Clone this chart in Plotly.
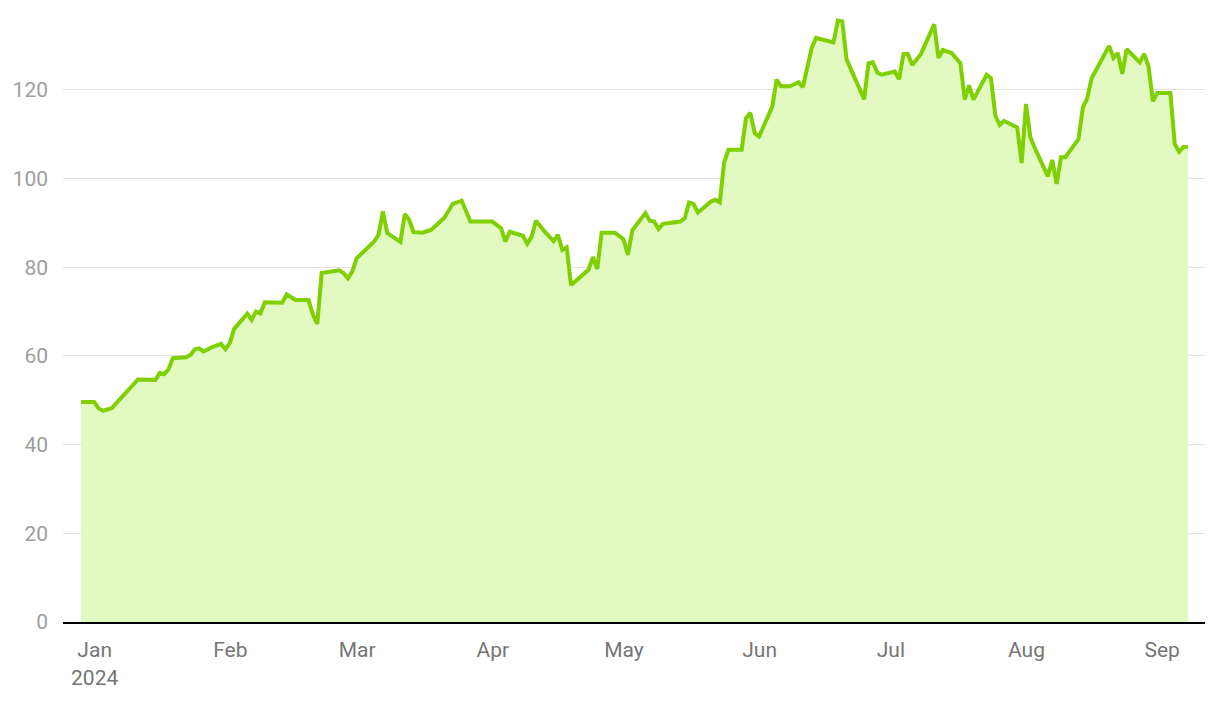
import plotly.graph_objects as go

dates = [
    "2024-01-02", "2024-01-05", "2024-01-06", "2024-01-07", "2024-01-09", "2024-01-15",
    "2024-01-19", "2024-01-20", "2024-01-21", "2024-01-22", "2024-01-23", "2024-01-26",
    "2024-01-27", "2024-01-28", "2024-01-29", "2024-01-30", "2024-02-01", "2024-02-03",
    "2024-02-04", "2024-02-05", "2024-02-06", "2024-02-09", "2024-02-10", "2024-02-11",
    "2024-02-12", "2024-02-13", "2024-02-17", "2024-02-18", "2024-02-20", "2024-02-23",
    "2024-02-24", "2024-02-25", "2024-02-26", "2024-03-01", "2024-03-02", "2024-03-03",
    "2024-03-04", "2024-03-05", "2024-03-09", "2024-03-10", "2024-03-11", "2024-03-12",
    "2024-03-15", "2024-03-16", "2024-03-17", "2024-03-18", "2024-03-20", "2024-03-22",
    "2024-03-25", "2024-03-27", "2024-03-29", "2024-03-31", "2024-04-05", "2024-04-06",
    "2024-04-07", "2024-04-08", "2024-04-09", "2024-04-12", "2024-04-13", "2024-04-14",
    "2024-04-15", "2024-04-17", "2024-04-19", "2024-04-20", "2024-04-21", "2024-04-22",
    "2024-04-23", "2024-04-27", "2024-04-28", "2024-04-29", "2024-04-30", "2024-05-03",
    "2024-05-05", "2024-05-06", "2024-05-07", "2024-05-10", "2024-05-11", "2024-05-12",
    "2024-05-13", "2024-05-14", "2024-05-18", "2024-05-19", "2024-05-20", "2024-05-21",
    "2024-05-22", "2024-05-25", "2024-05-26", "2024-05-27", "2024-05-28", "2024-05-29",
    "2024-06-01", "2024-06-02", "2024-06-03", "2024-06-04", "2024-06-05", "2024-06-08",
    "2024-06-09", "2024-06-10", "2024-06-12", "2024-06-14", "2024-06-15", "2024-06-17",
    "2024-06-18", "2024-06-22", "2024-06-23", "2024-06-24", "2024-06-25", "2024-06-29",
    "2024-06-30", "2024-07-01", "2024-07-02", "2024-07-03", "2024-07-06", "2024-07-07",
    "2024-07-08", "2024-07-09", "2024-07-10", "2024-07-12", "2024-07-15", "2024-07-16",
    "2024-07-17", "2024-07-19", "2024-07-21", "2024-07-22", "2024-07-23", "2024-07-24",
    "2024-07-27", "2024-07-28", "2024-07-29", "2024-07-30", "2024-07-31", "2024-08-03",
    "2024-08-04", "2024-08-05", "2024-08-06", "2024-08-07", "2024-08-10", "2024-08-11",
    "2024-08-12", "2024-08-13", "2024-08-14", "2024-08-17", "2024-08-18", "2024-08-19",
    "2024-08-20", "2024-08-24", "2024-08-25", "2024-08-26", "2024-08-27", "2024-08-28",
    "2024-08-31", "2024-09-01", "2024-09-02", "2024-09-03", "2024-09-04", "2024-09-07",
    "2024-09-08", "2024-09-09", "2024-09-10", "2024-09-11",
]

values = [
    49.6, 49.6, 48.2, 47.6, 48.2, 54.7,
    54.6, 56.2, 55.9, 57.0, 59.5, 59.7,
    60.2, 61.5, 61.7, 61.0, 62.0, 62.7,
    61.5, 62.9, 66.1, 69.5, 68.1, 70.0,
    69.6, 72.1, 72.0, 73.9, 72.6, 72.6,
    69.3, 67.2, 78.7, 79.3, 78.7, 77.5,
    79.0, 82.0, 85.8, 87.3, 92.6, 87.7,
    85.7, 92.0, 90.7, 87.9, 87.8, 88.4,
    91.1, 94.3, 95.0, 90.3, 90.3, 89.6,
    88.8, 85.8, 88.0, 87.1, 85.3, 86.9,
    90.5, 88.0, 85.9, 87.3, 83.9, 84.5,
    76.0, 79.4, 82.3, 79.6, 87.8, 87.8,
    86.3, 82.8, 88.3, 92.2, 90.5, 90.3,
    88.6, 89.8, 90.3, 91.1, 94.6, 94.3,
    92.3, 94.8, 95.2, 94.6, 103.6, 106.5,
    106.5, 113.6, 114.8, 110.2, 109.5, 116.2,
    122.3, 120.8, 120.8, 121.7, 120.6, 129.4,
    131.7, 130.7, 135.6, 135.4, 126.8, 117.9,
    126.0, 126.2, 123.9, 123.4, 124.1, 122.4,
    128.1, 128.1, 125.6, 128.1, 134.8, 127.2,
    129.0, 128.3, 126.0, 117.8, 121.0, 117.8,
    123.4, 122.6, 114.1, 112.1, 113.0, 111.5,
    103.5, 116.8, 109.3, 106.9, 100.5, 104.2,
    98.8, 104.8, 104.8, 108.9, 116.0, 118.1,
    122.6, 129.9, 127.2, 128.3, 123.6, 129.2,
    126.2, 128.1, 125.3, 117.4, 119.3, 119.3,
    107.8, 106.0, 107.1, 107.1,
]

month_ticks = ["2024-01-01", "2024-02-01", "2024-03-01", "2024-04-01", "2024-05-01",
               "2024-06-01", "2024-07-01", "2024-08-01", "2024-09-01"]
month_labels = ["Jan<br>2024", "Feb", "Mar", "Apr", "May", "Jun", "Jul", "Aug", "Sep"]
y_ticks = [0, 20, 40, 60, 80, 100, 120]

LINE = "#7ed000"
FILL = "#e2f9c2"

fig = go.Figure()
fig.add_trace(go.Scatter(
    x=dates, y=values, mode="lines",
    line=dict(color=LINE, width=4),
    fill="tozeroy", fillcolor=FILL,
    hoverinfo="skip",
))

# page body has an 8px margin; compensate so the plot area lands where the reference has it
fig.update_layout(
    width=1212, height=694,
    margin=dict(l=55, r=15, t=2, b=80),
    paper_bgcolor="white", plot_bgcolor="white",
    showlegend=False,
    font=dict(family="Roboto", size=21),
)
fig.update_xaxes(
    type="date",
    range=["2023-12-28 21:00", "2024-09-14 22:00"],
    tickvals=month_ticks, ticktext=month_labels,
    showgrid=False, zeroline=False,
    showline=True, linecolor="black", linewidth=2,
    ticks="", ticklabelshift=18, ticklabelstandoff=8,
    tickfont=dict(color="#757575", size=21),
    automargin=False,
)
fig.update_yaxes(
    range=[0, 138],
    tickvals=y_ticks,
    showgrid=True, gridcolor="#e2e2e2", gridwidth=1,
    zeroline=False, showline=False,
    ticks="", ticklabelstandoff=14,
    tickfont=dict(color="#9e9e9e", size=21),
    automargin=False,
)

fig.write_html("out.html")
